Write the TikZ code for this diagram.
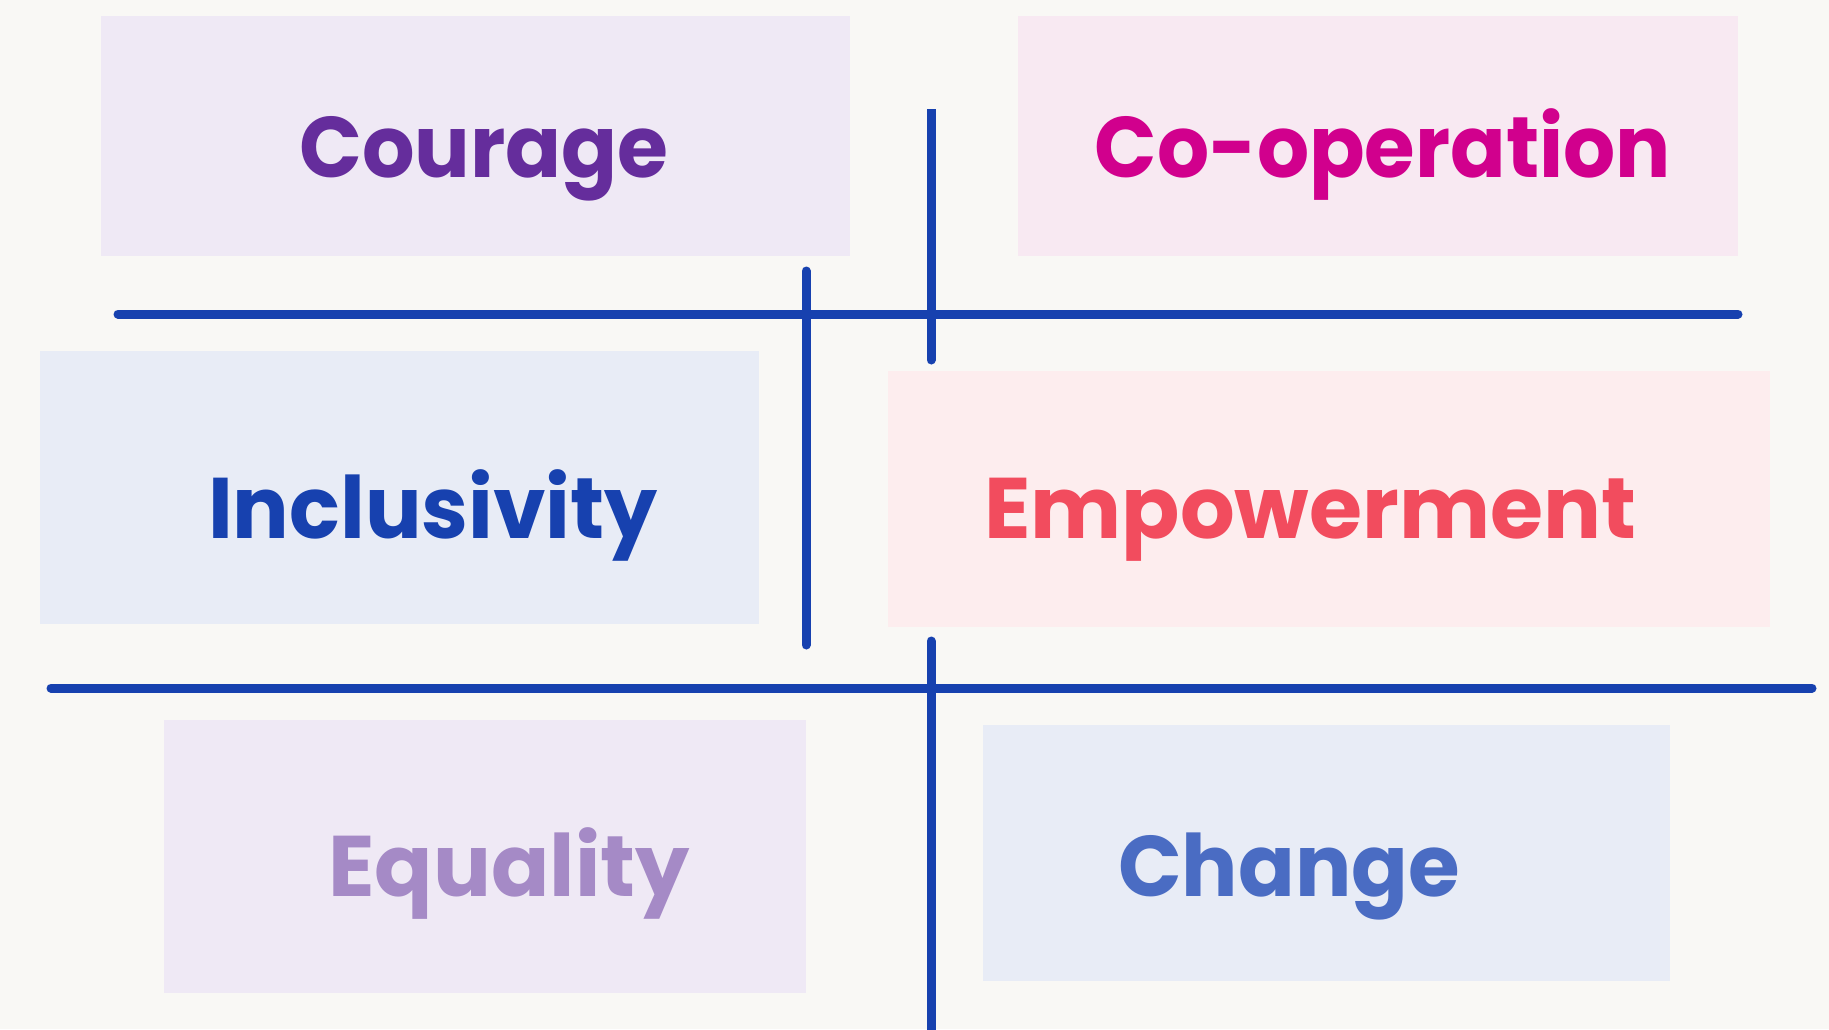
\documentclass[tikz,border=0pt]{standalone}
\usepackage{fontspec}
\setmainfont{Poppins}[BoldFont={* Bold}]
\definecolor{bgc}{HTML}{F9F8F5}
\definecolor{linec}{HTML}{1741AF}
\definecolor{purpbox}{HTML}{EFE9F5}
\definecolor{pinkbox}{HTML}{F8E9F2}
\definecolor{bluebox}{HTML}{E8ECF6}
\definecolor{redbox}{HTML}{FDEDEE}
\definecolor{tcourage}{HTML}{652D9C}
\definecolor{tcoop}{HTML}{D1008D}
\definecolor{tincl}{HTML}{1741AF}
\definecolor{tempow}{HTML}{F24C5E}
\definecolor{tequal}{HTML}{A58AC6}
\definecolor{tchange}{HTML}{4A6CC3}
\tikzset{
  word/.style={anchor=base, inner sep=0pt, font=\fontsize{86}{90}\selectfont\bfseries},
  rule/.style={draw=linec, line width=9pt, line cap=round}
}
\begin{document}
\begin{tikzpicture}[x=1pt,y=-1pt]
\fill[bgc] (0,0) rectangle (1829,1029);
\useasboundingbox (0,0) rectangle (1829,1029);
% panels
\fill[purpbox] (101,16) rectangle (850,256);
\fill[pinkbox] (1018,16) rectangle (1738,256);
\fill[bluebox] (40,351) rectangle (759,624);
\fill[redbox] (888,371) rectangle (1770,627);
\fill[purpbox] (164,720) rectangle (806,993);
\fill[bluebox] (983,725) rectangle (1670,981);
% words
\node[word, text=tcourage] (courage) at (484,177) {\scalebox{0.96}[1]{Courage}};
\node[word, text=tcoop] (coop) at (1383,177) {\scalebox{0.953}[1]{Co-operation}};
\node[word, text=tincl] (incl) at (433,538) {\scalebox{0.977}[1]{Inclusivity}};
\node[word, text=tempow] (empow) at (1310,538) {Empowerment};
\node[word, text=tequal] (equal) at (509,896) {Equality};
\node[word, text=tchange] (change) at (1289,896) {\scalebox{0.973}[1]{Change}};
% rules
\coordinate (h1a) at (118,314); \coordinate (h1b) at (1738,314);
\coordinate (h2a) at (51,688);  \coordinate (h2b) at (1812,688);
\coordinate (v1a) at (931,109); \coordinate (v1b) at (931,360);
\coordinate (v1m) at (931,330);
\coordinate (v2a) at (806,271); \coordinate (v2b) at (806,645);
\coordinate (v3a) at (931,641); \coordinate (v3b) at (931,1040);
\draw[rule] (h1a) -- (h1b);
\draw[rule] (h2a) -- (h2b);
\draw[rule, line cap=butt] (v1a) -- (v1m);
\draw[rule] (v1m) -- (v1b);
\draw[rule] (v2a) -- (v2b);
\draw[rule] (v3a) -- (v3b);
\end{tikzpicture}
\end{document}
